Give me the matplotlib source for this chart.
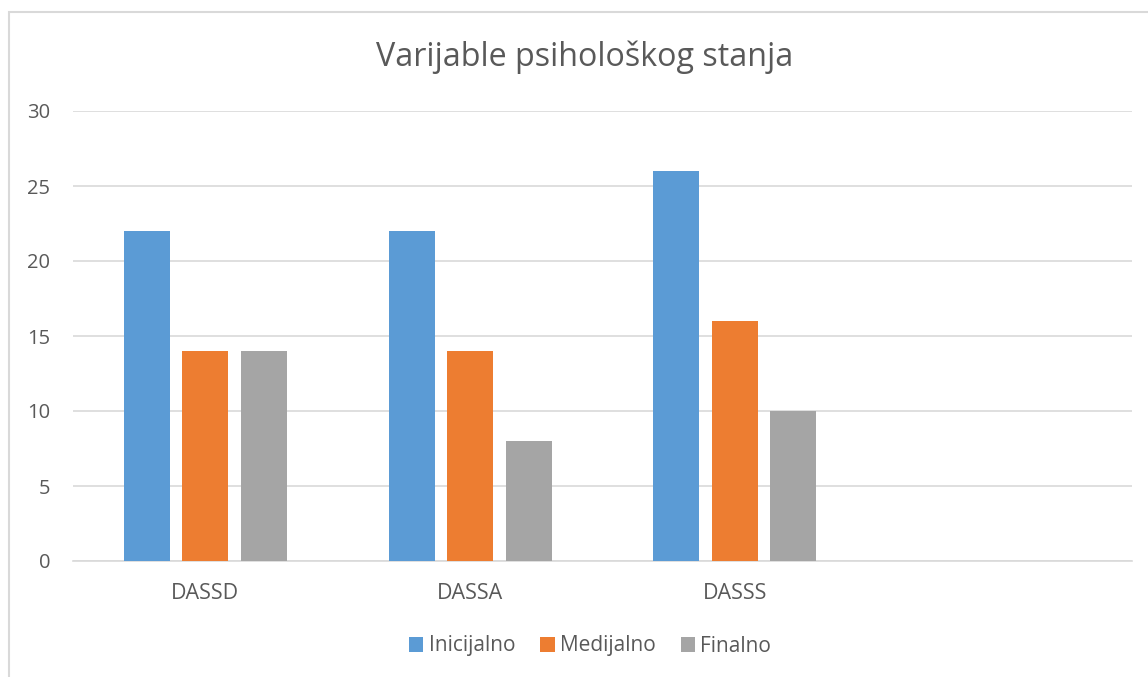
import numpy as np
import matplotlib.pyplot as plt
from matplotlib.patches import Rectangle

categories = ['DASSD', 'DASSA', 'DASSS', '']
inicijalno = [22, 22, 26, 0]
medijalno = [14, 14, 16, 0]
finalno = [14, 8, 10, 0]
series_names = ['Inicijalno', 'Medijalno', 'Finalno']
colors = ['#5b9bd5', '#ed7d31', '#a5a5a5']

plt.rcParams['font.family'] = ['Open Sans', 'DejaVu Sans']
text_col = '#595959'

W, H = 1148, 677
fig = plt.figure(figsize=(W / 100, H / 100), dpi=100)
ax = fig.add_axes([73 / W, 1 - 561 / H, (1132 - 73) / W, (561 - 111) / H])

# chart border (cropped on right/bottom)
fig.patches.append(Rectangle((9 / W, -0.1), 1.2, 1 - 12 / H + 0.1, transform=fig.transFigure,
                             fill=False, edgecolor='#d9d9d9', linewidth=1.5))

x = np.arange(len(categories))
bw = 0.174
step = 0.221
for i, (vals, c, name) in enumerate(zip([inicijalno, medijalno, finalno], colors, series_names)):
    ax.bar(x + (i - 1) * step, vals, width=bw, color=c, label=name, zorder=3)

ax.set_xlim(-0.5, len(categories) - 0.5)
ax.set_ylim(0, 30)
ax.set_yticks(range(0, 31, 5))
ax.set_xticks(x)
ax.set_xticklabels(categories, fontsize=15.5)
ax.grid(axis='y', color='#d9d9d9', linewidth=1.2, zorder=0)
for s in ['top', 'right', 'left']:
    ax.spines[s].set_visible(False)
ax.spines['bottom'].set_color('#d9d9d9')
ax.spines['bottom'].set_linewidth(1.2)
ax.tick_params(axis='both', length=0, colors=text_col)
ax.tick_params(axis='y', pad=16.5, labelsize=14.5)
ax.tick_params(axis='x', pad=16)

fig.text(585 / W, 1 - 57 / H, 'Varijable psihološkog stanja', ha='center', va='center',
         fontsize=23.2, color=text_col)

leg = fig.legend(loc='center', bbox_to_anchor=(590 / W, 1 - 646 / H), ncol=3, frameon=False,
                 fontsize=15, handlelength=0.7, handleheight=0.7, handletextpad=0.25,
                 columnspacing=1.2, labelcolor=text_col)

fig.savefig('out.png', dpi=100)
